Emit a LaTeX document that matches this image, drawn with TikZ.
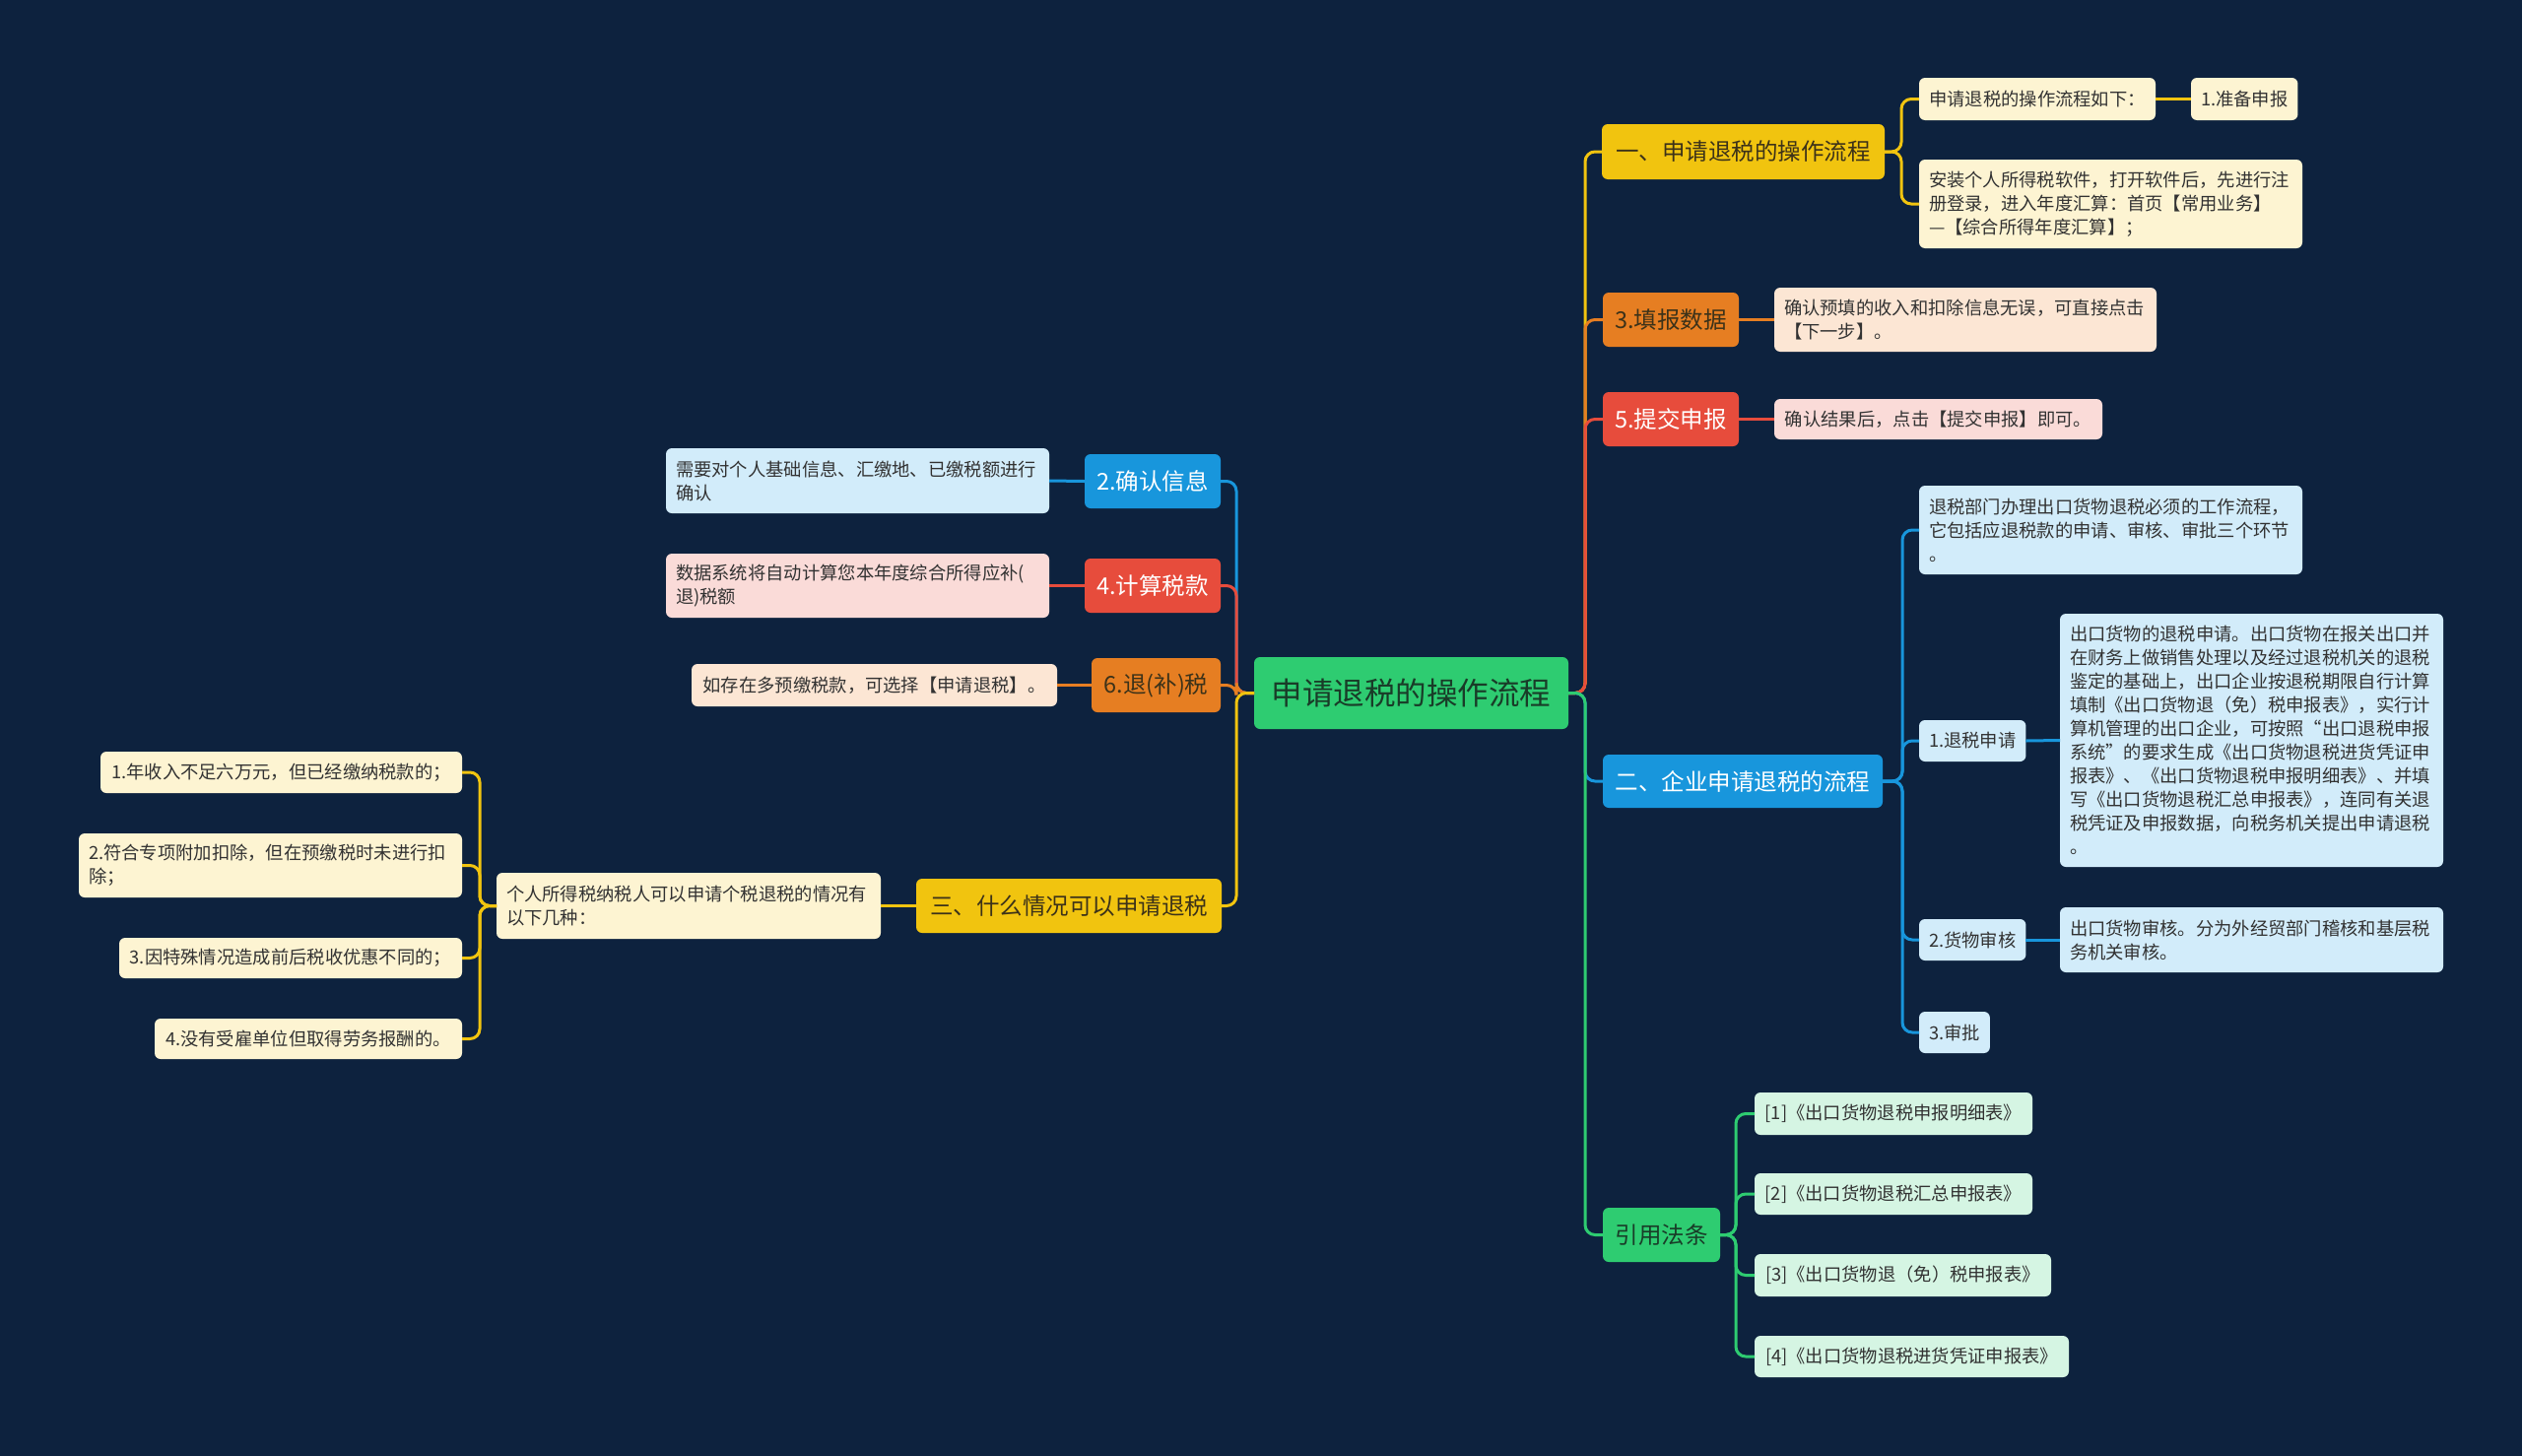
\documentclass[tikz,border=0pt]{standalone}
\usepackage{fontspec}
\setmainfont{Noto Sans CJK SC}
\definecolor{bg}{RGB}{13,34,62}
\definecolor{cy}{RGB}{241,196,15}
\definecolor{co}{RGB}{230,126,34}
\definecolor{cr}{RGB}{231,76,60}
\definecolor{cb}{RGB}{24,150,220}
\definecolor{cg}{RGB}{46,204,113}
\definecolor{ly}{RGB}{253,244,210}
\definecolor{lo}{RGB}{252,230,212}
\definecolor{lr}{RGB}{250,219,216}
\definecolor{lb}{RGB}{210,236,250}
\definecolor{lg}{RGB}{213,245,227}
\definecolor{tdark}{RGB}{50,50,50}
\definecolor{tbrown}{RGB}{60,50,25}
\definecolor{tgreen}{RGB}{25,60,40}
\newcommand{\mmC}{\fontsize{31.5pt}{38pt}\selectfont}
\newcommand{\mmA}{\fontsize{23.5pt}{28pt}\selectfont}
\newcommand{\mmB}{\fontsize{18.3pt}{24pt}\selectfont}
\tikzset{
  nd/.style={anchor=north west, rounded corners=6pt, inner xsep=10pt, inner ysep=0pt, outer sep=0pt},
  sz/.style 2 args={minimum width=#1pt, minimum height=#2pt},
  tw/.style={text width=#1pt-20pt, align=left},
  lvc/.style={nd, fill=cg, text=tgreen, font=\mmC, align=center},
  lva/.style={nd, font=\mmA, align=center, inner xsep=4pt},
  lvb/.style={nd, font=\mmB, text=tdark, align=left},
  ln/.style={line width=3pt, rounded corners=10pt},
}
\begin{document}
\begin{tikzpicture}[x=1pt,y=-1pt]
\fill[bg] (0,0) rectangle (2560,1478);
\useasboundingbox (0,0) rectangle (2560,1478);

% center
\node[lvc, sz={319}{73}] (c) at (1273,667) {申请退税的操作流程};

% right level 1
\node[lva, sz={287}{56}, fill=cy, text=tbrown] (r1) at (1626,126) {一、申请退税的操作流程};
\node[lva, sz={138}{55}, fill=co, text=tbrown] (r2) at (1627,297) {3.填报数据};
\node[lva, sz={138}{55}, fill=cr, text=white] (r3) at (1627,398) {5.提交申报};
\node[lva, sz={284}{54}, fill=cb, text=white] (r4) at (1627,766) {二、企业申请退税的流程};
\node[lva, sz={119}{55}, fill=cg, text=tgreen] (r5) at (1627,1226) {引用法条};

% left level 1
\node[lva, sz={138}{55}, fill=cb, text=white] (l1) at (1101,461) {2.确认信息};
\node[lva, sz={138}{55}, fill=cr, text=white] (l2) at (1101,567) {4.计算税款};
\node[lva, sz={131}{55}, fill=co, text=tbrown] (l3) at (1108,668) {6.退(补)税};
\node[lva, sz={310}{55}, fill=cy, text=tbrown] (l4) at (930,892) {三、什么情况可以申请退税};

% right level 2
\node[lvb, sz={240}{43}, fill=ly] (r1a) at (1948,79) {申请退税的操作流程如下：};
\node[lvb, sz={107}{43}, fill=ly] (r1a1) at (2224,79) {1.准备申报};
\node[lvb, sz={389}{90}, fill=ly, tw=389] (r1b) at (1948,162) {安装个人所得税软件，打开软件后，先进行注\\册登录，进入年度汇算：首页【常用业务】\\—【综合所得年度汇算】；};
\node[lvb, sz={388}{65}, fill=lo, tw=388] (r2a) at (1801,292) {确认预填的收入和扣除信息无误，可直接点击\\【下一步】。};
\node[lvb, sz={333}{41}, fill=lr] (r3a) at (1801,405) {确认结果后，点击【提交申报】即可。};
\node[lvb, sz={389}{90}, fill=lb, tw=389] (r4a) at (1948,493) {退税部门办理出口货物退税必须的工作流程，\\它包括应退税款的申请、审核、审批三个环节\\。};
\node[lvb, sz={108}{42}, fill=lb] (r4b) at (1948,731) {1.退税申请};
\node[lvb, sz={389}{257}, fill=lb, tw=389] (r4b1) at (2091,623) {出口货物的退税申请。出口货物在报关出口并\\在财务上做销售处理以及经过退税机关的退税\\鉴定的基础上，出口企业按退税期限自行计算\\填制《出口货物退（免）税申报表》，实行计\\算机管理的出口企业，可按照“出口退税申报\\系统”的要求生成《出口货物退税进货凭证申\\报表》、《出口货物退税申报明细表》、并填\\写《出口货物退税汇总申报表》，连同有关退\\税凭证及申报数据，向税务机关提出申请退税\\。};
\node[lvb, sz={108}{42}, fill=lb] (r4c) at (1948,933) {2.货物审核};
\node[lvb, sz={389}{66}, fill=lb, tw=389] (r4c1) at (2091,921) {出口货物审核。分为外经贸部门稽核和基层税\\务机关审核。};
\node[lvb, sz={71}{42}, fill=lb] (r4d) at (1948,1027) {3.审批};
\node[lvb, sz={282}{43}, fill=lg] (r5a) at (1781,1109) {[1]《出口货物退税申报明细表》};
\node[lvb, sz={282}{42}, fill=lg] (r5b) at (1781,1191) {[2]《出口货物退税汇总申报表》};
\node[lvb, sz={301}{43}, fill=lg] (r5c) at (1781,1273) {[3]《出口货物退（免）税申报表》};
\node[lvb, sz={319}{42}, fill=lg] (r5d) at (1781,1356) {[4]《出口货物退税进货凭证申报表》};

% left level 2
\node[lvb, sz={389}{66}, fill=lb, tw=389] (l1a) at (676,455) {需要对个人基础信息、汇缴地、已缴税额进行\\确认};
\node[lvb, sz={389}{65}, fill=lr, tw=389] (l2a) at (676,562) {数据系统将自动计算您本年度综合所得应补(\\退)税额};
\node[lvb, sz={371}{43}, fill=lo] (l3a) at (702,674) {如存在多预缴税款，可选择【申请退税】。};
\node[lvb, sz={390}{67}, fill=ly, tw=390] (l4a) at (504,886) {个人所得税纳税人可以申请个税退税的情况有\\以下几种：};
\node[lvb, sz={367}{42}, fill=ly] (l4a1) at (102,763) {1.年收入不足六万元，但已经缴纳税款的；};
\node[lvb, sz={389}{65}, fill=ly, tw=389] (l4a2) at (80,846) {2.符合专项附加扣除，但在预缴税时未进行扣\\除；};
\node[lvb, sz={348}{41}, fill=ly] (l4a3) at (121,952) {3.因特殊情况造成前后税收优惠不同的；};
\node[lvb, sz={312}{41}, fill=ly] (l4a4) at (157,1034) {4.没有受雇单位但取得劳务报酬的。};

% junction coordinates
\coordinate (rt) at (1609,703.5);
\coordinate (lt) at (1255,703.5);
\coordinate (r1j) at (1930,154);
\coordinate (r4j) at (1931,793);
\coordinate (r5j) at (1762,1253.5);
\coordinate (l4j) at (487,919.5);

% right trunk
\draw[ln, cy] (c.east) -- (rt) |- (r1.west);
\draw[ln, co] (c.east) -- (rt) |- (r2.west);
\draw[ln, cr] (c.east) -- (rt) |- (r3.west);
\draw[ln, cb] (c.east) -- (rt) |- (r4.west);
\draw[ln, cg] (c.east) -- (rt) |- (r5.west);

% left trunk
\draw[ln, cb] (c.west) -- (lt) |- (l1.east);
\draw[ln, cr] (c.west) -- (lt) |- (l2.east);
\draw[ln, co] (c.west) -- (lt) |- (l3.east);
\draw[ln, cy] (c.west) -- (lt) |- (l4.east);

% right level 2
\draw[ln, cy] (r1.east) -- (r1j) |- (r1a.west);
\draw[ln, cy] (r1.east) -- (r1j) |- (r1b.west);
\draw[ln, cy] (r1a.east) -- (r1a1.west);
\draw[ln, co] (r2.east) -- (r2a.west);
\draw[ln, cr] (r3.east) -- (r3a.west);
\draw[ln, cb] (r4.east) -- (r4j) |- (r4a.west);
\draw[ln, cb] (r4.east) -- (r4j) |- (r4b.west);
\draw[ln, cb] (r4.east) -- (r4j) |- (r4c.west);
\draw[ln, cb] (r4.east) -- (r4j) |- (r4d.west);
\draw[ln, cb] (r4b.east) -- (r4b1.west);
\draw[ln, cb] (r4c.east) -- (r4c1.west);
\draw[ln, cg] (r5.east) -- (r5j) |- (r5a.west);
\draw[ln, cg] (r5.east) -- (r5j) |- (r5b.west);
\draw[ln, cg] (r5.east) -- (r5j) |- (r5c.west);
\draw[ln, cg] (r5.east) -- (r5j) |- (r5d.west);

% left level 2
\draw[ln, cb] (l1.west) -- (l1a.east);
\draw[ln, cr] (l2.west) -- (l2a.east);
\draw[ln, co] (l3.west) -- (l3a.east);
\draw[ln, cy] (l4.west) -- (l4a.east);
\draw[ln, cy] (l4a.west) -- (l4j) |- (l4a1.east);
\draw[ln, cy] (l4a.west) -- (l4j) |- (l4a2.east);
\draw[ln, cy] (l4a.west) -- (l4j) |- (l4a3.east);
\draw[ln, cy] (l4a.west) -- (l4j) |- (l4a4.east);
\end{tikzpicture}
\end{document}
